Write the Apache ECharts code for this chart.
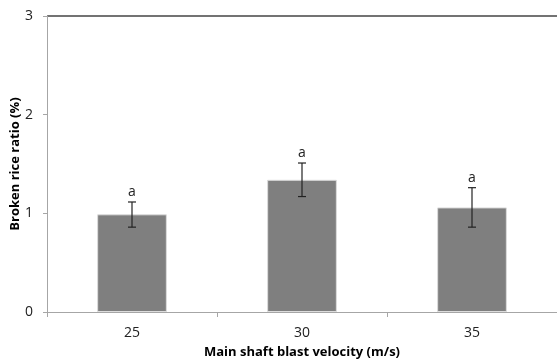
<!DOCTYPE html>
<html>
<head>
<meta charset="utf-8">
<script src="https://cdn.jsdelivr.net/npm/echarts@6/dist/echarts.min.js"></script>
<style>
  html, body { margin: 0; padding: 0; background: #fff; }
  #main { width: 557px; height: 363px; }
</style>
</head>
<body>
<div id="main"></div>
<script>
// data
var categories = ['25', '30', '35'];
var ratio = [0.99, 1.34, 1.06];
var errUp = [0.125, 0.17, 0.2];
var errDown = [0.13, 0.17, 0.2];
var letters = ['a', 'a', 'a'];
var yTicks = [0, 1, 2, 3];

var font = '"Open Sans", "Liberation Sans", sans-serif';

var errData = [];
for (var i = 0; i < categories.length; i++) {
    errData.push([i, ratio[i] - errDown[i], ratio[i] + errUp[i], letters[i]]);
}

var myChart = echarts.init(document.getElementById('main'));

var option = {
    animation: false,
    grid: { left: 47, right: 0, top: 16, bottom: 51, outerBoundsMode: 'none', containLabel: false },
    xAxis: {
        type: 'category',
        data: categories,
        name: 'Main shaft blast velocity (m/s)',
        nameLocation: 'middle',
        nameGap: 34,
        nameMoveOverlap: false,
        nameTextStyle: { fontFamily: font, fontWeight: 'bold', fontSize: 13, color: '#000' },
        axisLine: { lineStyle: { color: '#a6a6a6', width: 1 } },
        axisTick: { show: true, alignWithLabel: false, length: 5, lineStyle: { color: '#a6a6a6' } },
        axisLabel: { fontFamily: font, fontSize: 14, color: '#222', margin: 14 }
    },
    yAxis: {
        type: 'value',
        min: yTicks[0],
        max: yTicks[yTicks.length - 1],
        interval: 1,
        name: 'Broken rice ratio (%)',
        nameLocation: 'middle',
        nameGap: 25,
        nameRotate: 90,
        nameMoveOverlap: false,
        nameTextStyle: { fontFamily: font, fontWeight: 'bold', fontSize: 13, color: '#000' },
        axisLine: { show: true, lineStyle: { color: '#a6a6a6', width: 1 } },
        axisTick: { show: true, length: 4, lineStyle: { color: '#a6a6a6' } },
        axisLabel: { fontFamily: font, fontSize: 14, color: '#222', margin: 14 },
        splitLine: { show: false }
    },
    series: [
        {
            type: 'bar',
            data: ratio,
            barWidth: '41%',
            itemStyle: { color: '#7f7f7f', borderColor: '#dcdcdc', borderWidth: 1 }
        },
        {
            type: 'custom',
            data: errData,
            z: 10,
            renderItem: function (params, api) {
                var lo = api.coord([api.value(0), api.value(1)]);
                var hi = api.coord([api.value(0), api.value(2)]);
                var x = lo[0], hw = 4;
                var st = { stroke: '#222', lineWidth: 1.2 };
                return {
                    type: 'group',
                    children: [
                        { type: 'line', shape: { x1: x, y1: lo[1], x2: x, y2: hi[1] }, style: st },
                        { type: 'line', shape: { x1: x - hw, y1: lo[1], x2: x + hw, y2: lo[1] }, style: st },
                        { type: 'line', shape: { x1: x - hw, y1: hi[1], x2: x + hw, y2: hi[1] }, style: st },
                        {
                            type: 'text',
                            style: {
                                x: x, y: hi[1] - 3,
                                text: letters[params.dataIndex],
                                align: 'center', verticalAlign: 'bottom',
                                fontFamily: font, fontSize: 14, fill: '#222'
                            }
                        }
                    ]
                };
            }
        }
    ],
    graphic: [
        // dark frame line along the top of the plot
        { type: 'line', shape: { x1: 47, y1: 16, x2: 557, y2: 16 }, style: { stroke: '#444', lineWidth: 1.5 } }
    ]
};

myChart.setOption(option);
</script>
</body>
</html>
